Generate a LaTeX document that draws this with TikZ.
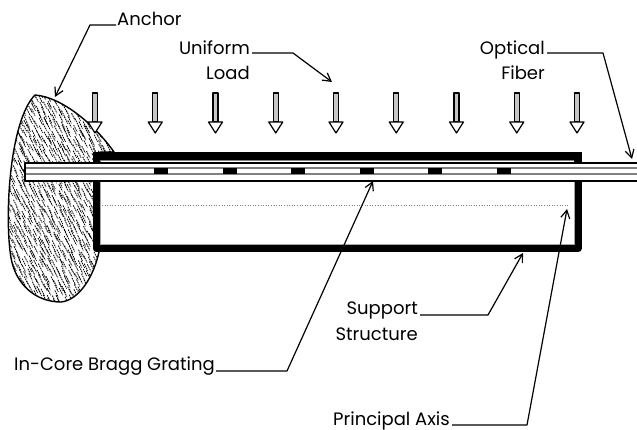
\documentclass[tikz,border=0pt]{standalone}
\usepackage{fontspec}
\setmainfont{Poppins}
\usetikzlibrary{arrows.meta}

% outline of the anchor block
\newcommand{\anchorshape}{(35,95) .. controls (62,97) and (95,125) .. (114,152) -- (100,152) -- (99,252)
  .. controls (94,275) and (80,300) .. (61,302) .. controls (36,302) and (16,285) .. (11,258)
  .. controls (4,215) and (10,120) .. (35,95) -- cycle}

\begin{document}
\begin{tikzpicture}[x=1pt,y=-1pt,
    line join=round,>={Straight Barb[length=8pt,width=9pt]},
    lbl/.style={font=\fontsize{18}{20}\selectfont, inner sep=0pt},
    leader/.style={line width=1.2pt},
    loadshaft/.style={line width=1.2pt, fill=gray!45},
    loadhead/.style={line width=1.2pt, fill=white},
    hatch/.style={line width=0.8pt, dash pattern=on 1.6pt off 0.8pt}]
  \useasboundingbox (0,0) rectangle (637,430);

  % anchor block with speckled hatching
  \fill[white] \anchorshape;
  \begin{scope}
    \clip \anchorshape;
    \pgfmathsetseed{7}
    \foreach \i in {0,...,21}
      \foreach \j in {0,...,44} {
        \pgfmathsetmacro\hx{3+5*\i+2*rand}
        \pgfmathsetmacro\hy{90+5*\j+2*rand}
        \draw[hatch] (\hx,\hy) -- ++(3.5,7);
      }
  \end{scope}
  \draw[line width=1.4pt] \anchorshape;

  % support structure and top plate
  \fill (93,152.5) rectangle (581.5,160.5);
  \draw[gray, line width=1pt] (100,160.5) -- (575,160.5);
  \draw[line width=7.5pt, line cap=rect] (96.5,163) -- (96.5,248.5) -- (578,248.5) -- (578,163);
  \draw[gray!70, line width=0.8pt] (100.8,181) -- (100.8,244.2) -- (574.2,244.2) -- (574.2,181);

  % optical fiber
  \fill[white] (25,163) rectangle (637,181);
  \draw[gray, line width=1.6pt] (25,168) -- (637,168) (25,174) -- (637,174);
  \draw[line width=2pt] (637,163) -- (25,163) -- (25,181) -- (637,181);

  % bragg gratings
  \foreach \i in {0,...,5}
    \fill (154+68.6*\i,168) rectangle ++(14,6.5);

  % principal axis
  \draw[gray, dotted, line width=0.6pt] (102,205) -- (570,205);

  % uniform load arrows
  \foreach \i in {0,...,8} {
    \pgfmathsetmacro\lx{95+60.25*\i}
    \draw[loadshaft] (\lx-2.5,93) rectangle (\lx+2.5,122);
    \draw[loadhead] (\lx-7,122) -- (\lx+7,122) -- (\lx,133) -- cycle;
  }

  % labels
  \node[lbl, anchor=base west] (anchorlbl) at (117,26) {Anchor};
  \node[lbl, anchor=base east] (uniformlbl) at (250,55) {Uniform};
  \node[lbl, anchor=base east] (loadlbl) at (250,80) {Load};
  \node[lbl, anchor=base east] (opticallbl) at (545,55) {Optical};
  \node[lbl, anchor=base east] (fiberlbl) at (545,80) {Fiber};
  \node[lbl, anchor=base east] (supportlbl) at (418,314) {Support};
  \node[lbl, anchor=base east] (structurelbl) at (418,340) {Structure};
  \node[lbl, anchor=base east] (bragglbl) at (215,370) {In-Core Bragg Grating};
  \node[lbl, anchor=base east] (axislbl) at (450,425) {Principal Axis};

  % leader bends and tips
  \coordinate (anchorbend) at (90,25);
  \coordinate (anchortip) at (55,97);
  \coordinate (loadbend) at (293,53);
  \coordinate (loadtip) at (332,82);
  \coordinate (fiberbend) at (603,53);
  \coordinate (fibertip) at (632,159);
  \coordinate (supportbend) at (488,315);
  \coordinate (supporttip) at (523,253);
  \coordinate (braggbend) at (287,371);
  \coordinate (braggtip) at (373,181);
  \coordinate (axisbend) at (527,425);
  \coordinate (axistip) at (567,209);

  % leaders
  \draw[leader,->] (anchorlbl.base west) ++(-1,-1) -- (anchorbend) -- (anchortip);
  \draw[leader,->] (uniformlbl.base east) ++(2,-2) -- (loadbend) -- (loadtip);
  \draw[leader,->] (opticallbl.base east) ++(2,-2) -- (fiberbend) -- (fibertip);
  \draw[leader,->] (supportlbl.base east) ++(2,1) -- (supportbend) -- (supporttip);
  \draw[leader,->] (bragglbl.base east) ++(1,1) -- (braggbend) -- (braggtip);
  \draw[leader,->] (axislbl.base east) ++(2,0) -- (axisbend) -- (axistip);
\end{tikzpicture}
\end{document}
